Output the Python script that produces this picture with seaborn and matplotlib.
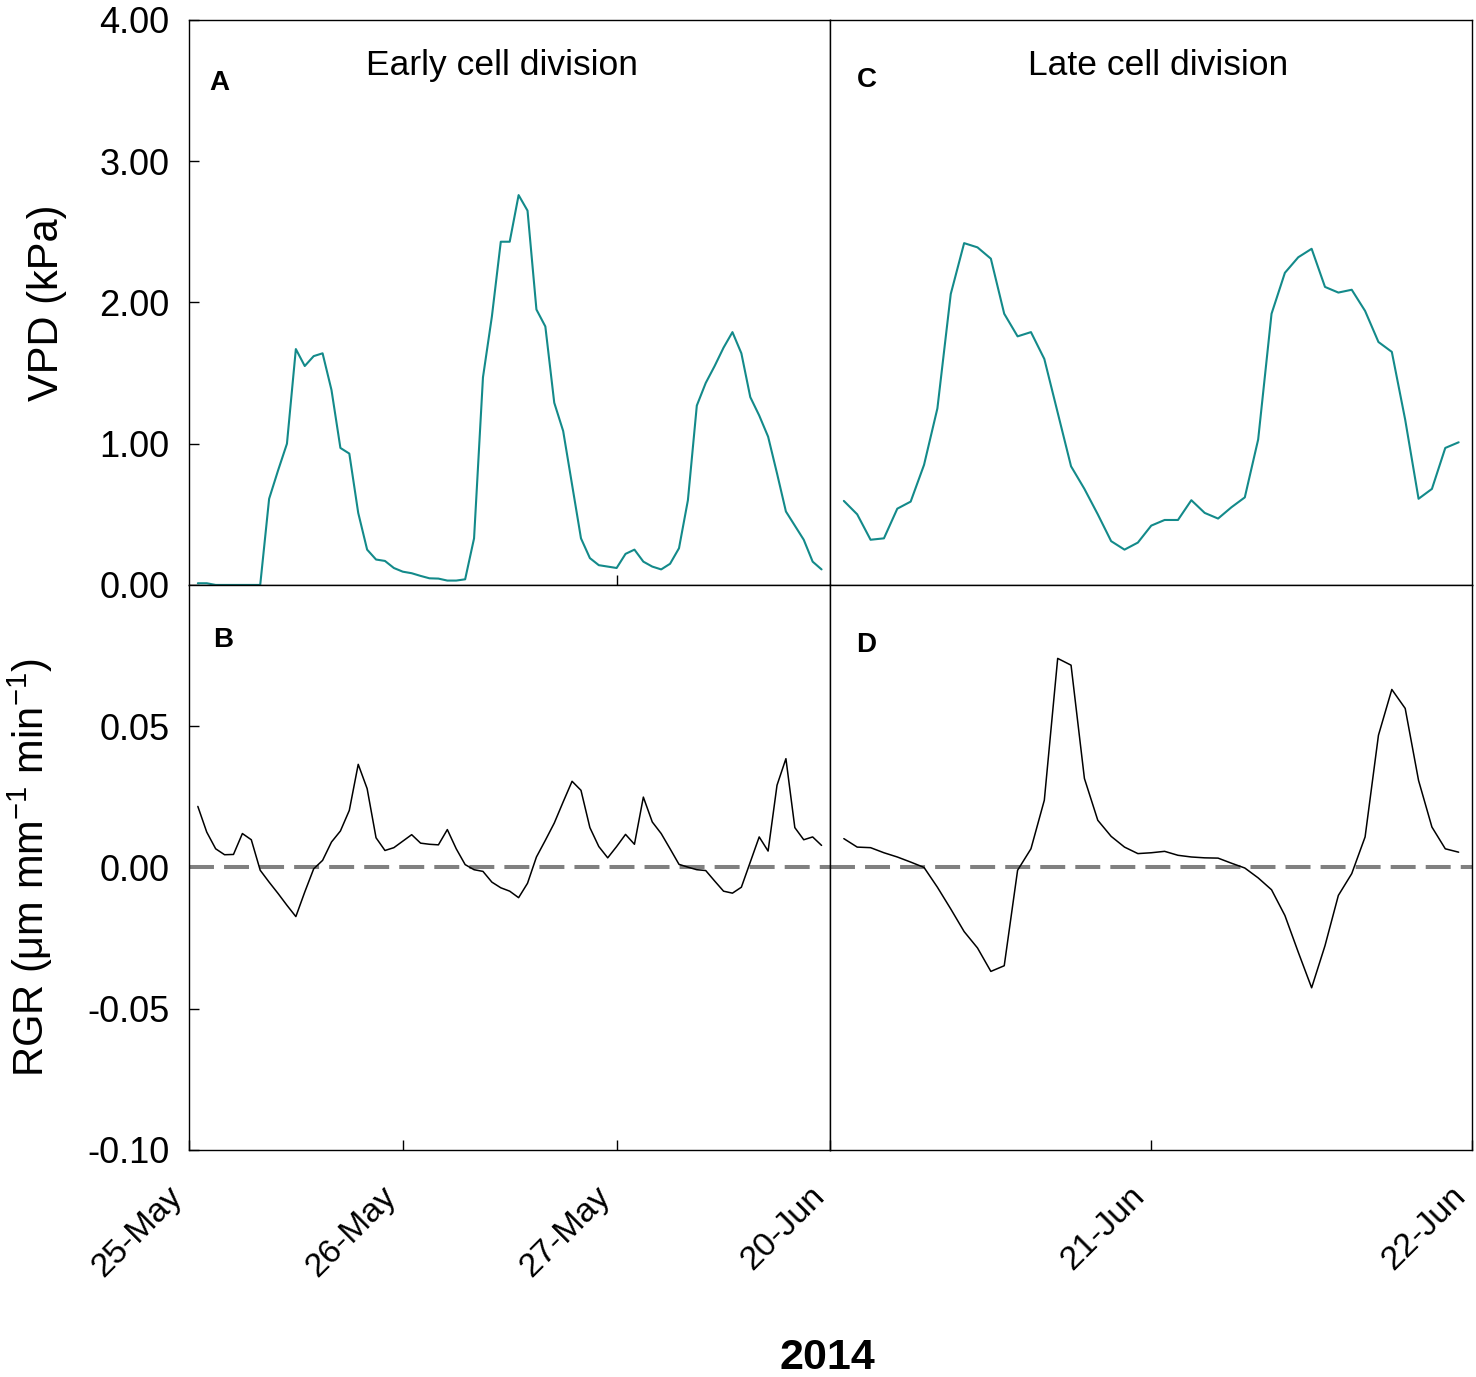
import numpy as np
import matplotlib
matplotlib.use("Agg")
import matplotlib.pyplot as plt
import seaborn as sns

sns.set_style("ticks")
plt.rcParams['font.family'] = ['Liberation Sans', 'DejaVu Sans']
plt.rcParams['mathtext.fontset'] = 'custom'
plt.rcParams['mathtext.rm'] = 'Liberation Sans'
plt.rcParams['mathtext.it'] = 'Liberation Sans:italic'
plt.rcParams['text.color'] = 'black'
plt.rcParams['axes.labelcolor'] = 'black'
plt.rcParams['xtick.color'] = 'black'
plt.rcParams['ytick.color'] = 'black'

# hourly readings, hour 1 onwards
vpd_early = [0.012, 0.012, 0, 0, 0, 0, 0, 0, 0.61, 0.81, 1.00, 1.67, 1.55, 1.62, 1.64, 1.38,
             0.97, 0.93, 0.51, 0.25, 0.18, 0.17, 0.12, 0.094, 0.083, 0.064, 0.047, 0.045,
             0.031, 0.031, 0.04, 0.33, 1.47, 1.90, 2.43, 2.43, 2.76, 2.65, 1.95, 1.83, 1.29,
             1.09, 0.71, 0.33, 0.19, 0.14, 0.13, 0.12, 0.22, 0.25, 0.165, 0.13, 0.11, 0.15,
             0.26, 0.60, 1.27, 1.43, 1.55, 1.68, 1.79, 1.64, 1.33, 1.20, 1.05, 0.79, 0.52,
             0.42, 0.32, 0.165, 0.11]
rgr_early = [0.0216, 0.0125, 0.0066, 0.0045, 0.0046, 0.012, 0.0098, -0.001, -0.0052, -0.0092,
             -0.0134, -0.0174, -0.0087, -0.0005, 0.0025, 0.009, 0.0129, 0.0202, 0.0365, 0.0279,
             0.0105, 0.006, 0.007, 0.0093, 0.0116, 0.0086, 0.0082, 0.008, 0.0134, 0.0066,
             0.001, -0.0008, -0.0014, -0.0052, -0.0072, -0.0084, -0.0107, -0.0056, 0.0037, 0.0096,
             0.0157, 0.0232, 0.0305, 0.0273, 0.0141, 0.0074, 0.0034, 0.0074, 0.0117, 0.0082,
             0.0249, 0.0161, 0.012, 0.0066, 0.0011, 0.0001, -0.0008, -0.0011, -0.0048, -0.0084,
             -0.0091, -0.007, 0.0019, 0.0108, 0.0058, 0.0291, 0.0385, 0.0141, 0.0098, 0.0108, 0.0078]
vpd_late = [0.595, 0.50, 0.32, 0.33, 0.54, 0.59, 0.85, 1.25, 2.06, 2.42,
            2.39, 2.31, 1.92, 1.76, 1.79, 1.60, 1.22, 0.84, 0.68, 0.50,
            0.31, 0.25, 0.30, 0.42, 0.46, 0.46, 0.60, 0.51, 0.47, 0.55,
            0.62, 1.03, 1.92, 2.21, 2.32, 2.38, 2.11, 2.07, 2.09, 1.94,
            1.72, 1.65, 1.17, 0.61, 0.68, 0.97, 1.01]
rgr_late = [0.0102, 0.0072, 0.007, 0.0052, 0.0037, 0.0019, 0.0, -0.007, -0.0147, -0.0227,
            -0.0285, -0.0368, -0.0348, -0.001, 0.0066, 0.0238, 0.074, 0.0716, 0.0315, 0.0167,
            0.011, 0.0072, 0.0049, 0.0052, 0.0057, 0.0043, 0.0037, 0.0034, 0.0033, 0.0015,
            -0.0002, -0.0037, -0.0079, -0.017, -0.030, -0.0426, -0.0277, -0.0099, -0.0022, 0.0108,
            0.0468, 0.063, 0.0563, 0.0308, 0.0143, 0.0066, 0.0054]

hours_early = np.arange(1, len(vpd_early) + 1)
hours_late = np.arange(1, len(vpd_late) + 1)

early_days = ["25-May", "26-May", "27-May"]
late_days = ["20-Jun", "21-Jun", "22-Jun"]
vpd_ticks = [0, 1, 2, 3, 4]
rgr_ticks = [-0.10, -0.05, 0.00, 0.05]

teal = "#138a8a"

fig, axs = plt.subplots(2, 2, figsize=(14.76, 13.77), dpi=100,
                        gridspec_kw=dict(wspace=0, hspace=0))
fig.subplots_adjust(left=0.128, right=0.9973, top=0.9855, bottom=0.1649)

sns.lineplot(x=hours_early, y=vpd_early, ax=axs[0, 0], color=teal, linewidth=1.5)
sns.lineplot(x=hours_late, y=vpd_late, ax=axs[0, 1], color=teal, linewidth=1.5)
sns.lineplot(x=hours_early, y=rgr_early, ax=axs[1, 0], color="black", linewidth=1.1)
sns.lineplot(x=hours_late, y=rgr_late, ax=axs[1, 1], color="black", linewidth=1.1)

for ax in axs[1]:
    ax.axhline(0, color="#808080", lw=2.9, ls=(0, (6.2, 2.5)), zorder=1)

for ax in axs.flat:
    for s in ax.spines.values():
        s.set_visible(True)
        s.set_linewidth(1.0)
        s.set_color("black")
    ax.tick_params(direction="in", length=7, width=1.0, labelsize=26, pad=14)

axs[0, 0].set_xlim(0, 72)
axs[1, 0].set_xlim(0, 72)
axs[0, 1].set_xlim(0, 48)
axs[1, 1].set_xlim(0, 48)
for ax in axs[0]:
    ax.set_ylim(0, 4)
for ax in axs[1]:
    ax.set_ylim(-0.10, 0.10)

axs[0, 0].set_yticks(vpd_ticks, [f"{v:.2f}" for v in vpd_ticks])
axs[1, 0].set_yticks(rgr_ticks, [f"{v:.2f}" for v in rgr_ticks])
axs[0, 0].set_xticks([48], [""])
axs[0, 1].set_xticks([])
for ax in axs[:, 1]:
    ax.set_yticks([])

axs[1, 0].set_xticks([0, 24, 48], early_days, rotation=45, ha="right")
axs[1, 1].set_xticks([0, 24, 48], late_days, rotation=45, ha="right")
for ax in axs[1]:
    ax.tick_params(axis="x", labelsize=24.5, pad=22)

axs[0, 0].set_ylabel("VPD (kPa)", fontsize=30)
axs[0, 0].yaxis.set_label_coords(-0.19, 0.5)
axs[1, 0].set_ylabel("RGR (μm mm$^{\\mathrm{-1}}$ min$^{\\mathrm{-1}}$)", fontsize=30)
axs[1, 0].yaxis.set_label_coords(-0.209, 0.5)

axs[0, 0].text(0.488, 0.92, "Early cell division", transform=axs[0, 0].transAxes,
               ha="center", va="center", fontsize=25.5)
axs[0, 1].text(0.51, 0.92, "Late cell division", transform=axs[0, 1].transAxes,
               ha="center", va="center", fontsize=25.5)

letters = [("A", axs[0, 0], 0.048, 0.888), ("C", axs[0, 1], 0.056, 0.893),
           ("B", axs[1, 0], 0.053, 0.903), ("D", axs[1, 1], 0.056, 0.894)]
for lab, ax, lx, ly in letters:
    ax.text(lx, ly, lab, transform=ax.transAxes, ha="center", va="center",
            fontsize=20, fontweight="bold")

fig.text(827 / 1476, 1 - 1358 / 1377, "2014", ha="center", va="center",
         fontsize=31, fontweight="bold")

fig.savefig("out.png", dpi=100)
